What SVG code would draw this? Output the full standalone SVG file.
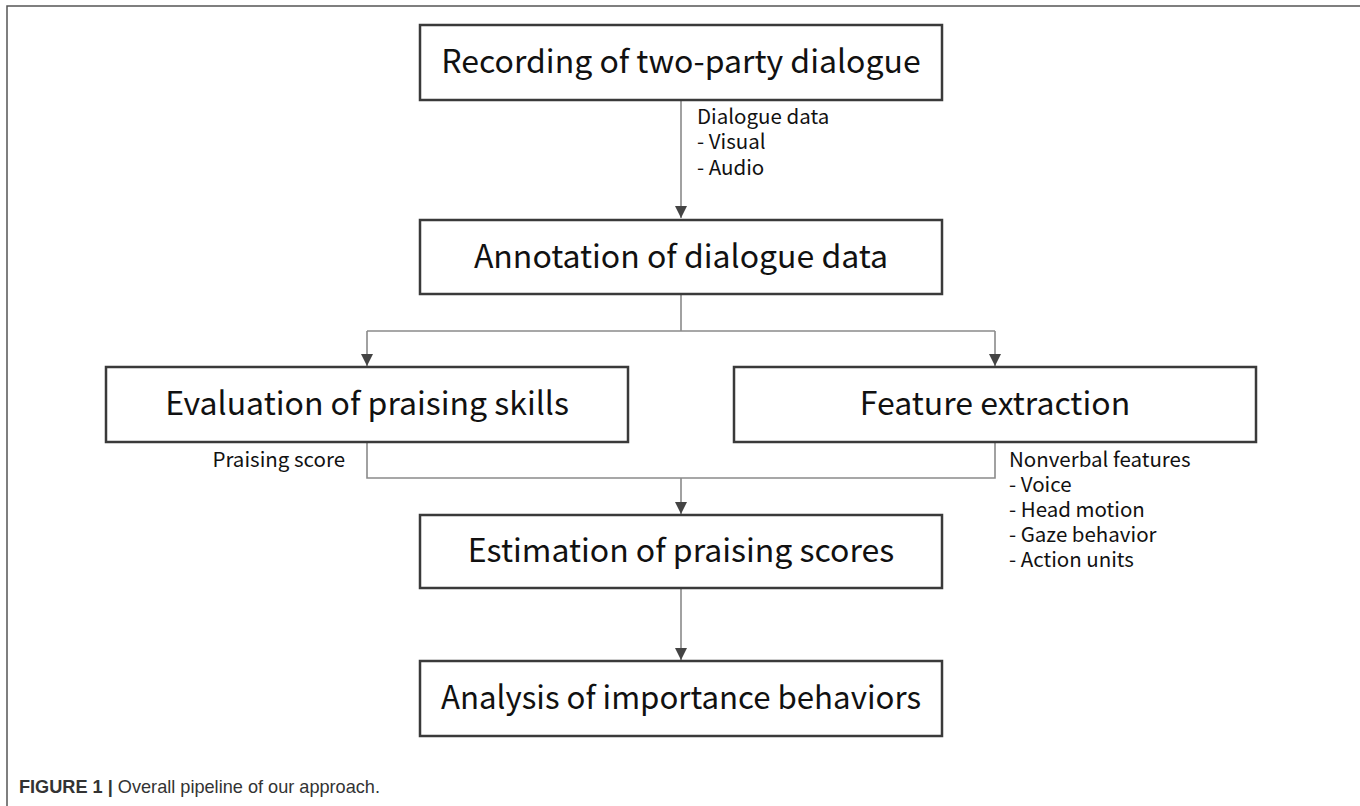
<svg xmlns="http://www.w3.org/2000/svg" width="1360" height="806" viewBox="0 0 1360 806">
<style>
.box{fill:#fff;stroke:#3a3a3a;stroke-width:2.5}
.title{font-family:"Noto Sans CJK JP","Noto Sans",sans-serif;font-size:32px;fill:#111;text-anchor:middle}
.lbl{font-family:"Noto Sans CJK JP","Noto Sans",sans-serif;font-size:20.5px;fill:#111}
.con{fill:none;stroke:#8a8a8a;stroke-width:1.6}
.cap{font-family:"Liberation Sans",sans-serif;font-size:19px;fill:#333}
</style>
<defs>
<marker id="ah" markerWidth="12" markerHeight="12" refX="10" refY="5" orient="auto" markerUnits="userSpaceOnUse" viewBox="0 0 10 10">
<path d="M0,0 L10,5 L0,10 z" fill="#444"/>
</marker>
</defs>
<rect x="0" y="0" width="1360" height="806" fill="#fff"/>
<path d="M7,806 V6 H1360" fill="none" stroke="#555" stroke-width="1.5"/>
<g id="connectors">
<path class="con" d="M681,100 V218" marker-end="url(#ah)"/>
<path class="con" d="M681,294 V331 M367,331 H995"/>
<path class="con" d="M367,331 V366" marker-end="url(#ah)"/>
<path class="con" d="M995,331 V366" marker-end="url(#ah)"/>
<path class="con" d="M367,442 V478 H995 V442"/>
<path class="con" d="M681,478 V514" marker-end="url(#ah)"/>
<path class="con" d="M681,588 V660" marker-end="url(#ah)"/>
</g>
<g id="lbl-dialogue">
<text class="lbl" x="697" y="124">Dialogue data</text>
<text class="lbl" x="697" y="149">- Visual</text>
<text class="lbl" x="697" y="175">- Audio</text>
</g>
<g id="lbl-praising">
<text class="lbl" x="345" y="467" text-anchor="end">Praising score</text>
</g>
<g id="lbl-nonverbal">
<text class="lbl" x="1009" y="467">Nonverbal features</text>
<text class="lbl" x="1009" y="492">- Voice</text>
<text class="lbl" x="1009" y="517">- Head motion</text>
<text class="lbl" x="1009" y="542">- Gaze behavior</text>
<text class="lbl" x="1009" y="567">- Action units</text>
</g>
<g id="n1"><rect class="box" x="420" y="25" width="522" height="75"/><text class="title" x="681" y="73">Recording of two-party dialogue</text></g>
<g id="n2"><rect class="box" x="420" y="220" width="522" height="74"/><text class="title" x="681" y="268">Annotation of dialogue data</text></g>
<g id="n3"><rect class="box" x="106" y="367" width="522" height="75"/><text class="title" x="367" y="415">Evaluation of praising skills</text></g>
<g id="n4"><rect class="box" x="734" y="367" width="522" height="75"/><text class="title" x="995" y="415">Feature extraction</text></g>
<g id="n5"><rect class="box" x="420" y="515" width="522" height="73"/><text class="title" x="681" y="562">Estimation of praising scores</text></g>
<g id="n6"><rect class="box" x="420" y="661" width="522" height="75"/><text class="title" x="681" y="709" textLength="480" lengthAdjust="spacingAndGlyphs">Analysis of importance behaviors</text></g>
<text class="cap" x="19" y="793" textLength="361" lengthAdjust="spacingAndGlyphs"><tspan font-weight="bold">FIGURE 1</tspan> <tspan font-weight="bold">|</tspan> Overall pipeline of our approach.</text>
</svg>
